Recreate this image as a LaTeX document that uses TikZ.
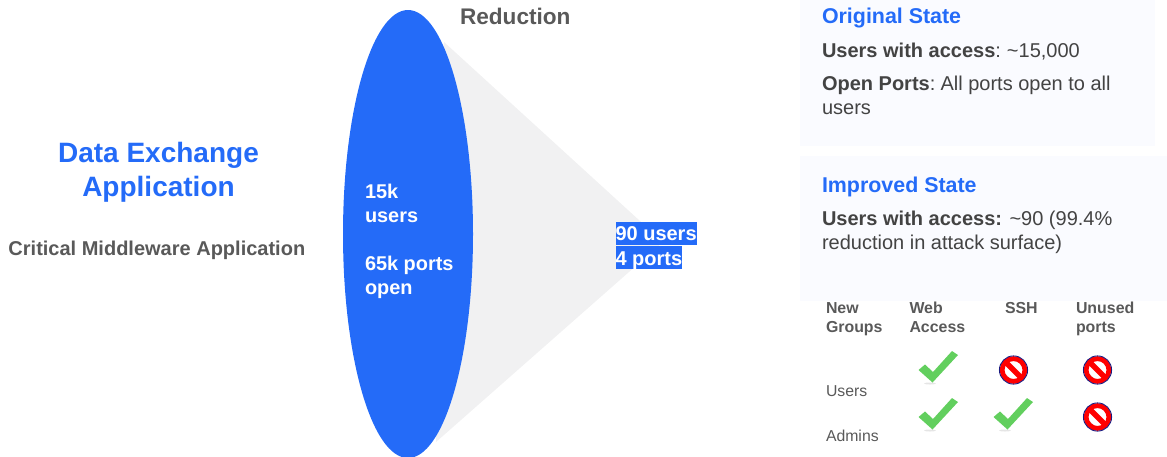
\documentclass[tikz,border=0pt]{standalone}
\usepackage{fontspec}
\usetikzlibrary{shapes.geometric}
\setmainfont{Liberation Sans}
\definecolor{blu}{HTML}{246BF8}
\definecolor{cone}{HTML}{F1F1F2}
\definecolor{panel}{HTML}{FAFBFF}
\definecolor{txt}{HTML}{595959}
\definecolor{dark}{HTML}{434343}
\definecolor{chk}{HTML}{62CF5E}
\definecolor{nvy}{HTML}{1A1A80}
\newcommand{\fs}[1]{\fontsize{#1}{#1}\selectfont}
\tikzset{
  lab/.style={anchor=base west,inner sep=0pt,outer sep=0pt},
  title/.style={lab,font=\fs{21.4}\bfseries,text=blu},
  body/.style={lab,font=\fs{20},text=dark},
  head/.style={lab,font=\fs{15.9}\bfseries,text=txt},
  row/.style={lab,font=\fs{15.8},text=txt},
  inell/.style={lab,font=\fs{19.9}\bfseries,text=white},
  hl/.style={lab,font=\fs{20}\bfseries,text=white,fill=blu,text height=18pt,text depth=4.6pt},
  pics/okmark/.style={code={
    \fill[black!10] (-8,13.5) ellipse (6 and 1);
    \fill[chk] (-19.5,0) -- (-13,-5.5) -- (-5,2) -- (14,-19) -- (20,-15) -- (-5.5,12.5) -- cycle;
  }},
  pics/nomark/.style={code={
    \fill[white] (0,0) circle (14);
    \begin{scope}
      \clip (0,0) circle (11);
      \fill[black!22] (-12,0) -- (0,12) -- (-12,12) -- cycle;
      \fill[black!22] (6,-8) -- (12,-8) -- (12,4) -- cycle;
    \end{scope}
    \draw[red,line width=4.8pt] (0,0) circle (11.4);
    \draw[red,line width=5.4pt] (-9,-9) -- (9,9);
    \draw[nvy,line width=0.9pt] (0,0) circle (14.1);
  }}
}
\begin{document}
\begin{tikzpicture}[x=1pt,y=-1pt]
\useasboundingbox (0,0) rectangle (1167,456);
\fill[panel] (800,0) rectangle (1155,146);
\fill[panel] (800,156) rectangle (1167,301);
\fill[cone] (444,42) -- (663,242) -- (436,442) -- cycle;
\begin{scope}
\clip (0,0) rectangle (1167,456);
\node[ellipse,fill=blu,minimum width=130pt,minimum height=448pt,inner sep=0pt] (oval) at (408,234) {};
\end{scope}
\node[lab,font=\fs{22.6}\bfseries,text=txt] (red) at (460,24) {Reduction};
\node[anchor=base,inner sep=0pt,font=\fs{28}\bfseries,text=blu] (t1) at (158.5,162) {Data Exchange};
\node[anchor=base,inner sep=0pt,font=\fs{28}\bfseries,text=blu] (t2) at (158.5,196) {Application};
\node[lab,font=\fs{20}\bfseries,text=txt] (crit) at (8.5,255) {Critical Middleware Application};
\node[inell] (a) at (365,198) {15k};
\node[inell] (b) at (365,222) {users};
\node[inell] (c) at (365,270) {65k ports};
\node[inell] (d) at (365,294) {open};
\node[hl] (e) at (615.5,240) {90 users};
\node[hl,text height=19pt,text depth=3.6pt] (f) at (615.5,265) {4 ports};
\node[title] (o1) at (822,23) {Original State};
\node[body] (o2) at (822,57) {\textbf{Users with access}:\hspace{6pt}\textasciitilde15,000};
\node[body] (o3) at (822,90) {\textbf{Open Ports}:\hspace{5.2pt}All ports open to all};
\node[body] (o4) at (822,114) {users};
\node[title] (i1) at (822,192) {Improved State};
\node[body] (i2) at (822,225) {\textbf{Users with access:} \textasciitilde90 (99.4\%};
\node[body] (i3) at (822,249) {reduction in attack surface)};
\node[head] (h1) at (826,313) {New};
\node[head] (h2) at (826,332) {Groups};
\node[head] (h3) at (909.5,313) {Web};
\node[head] (h4) at (909.5,332) {Access};
\node[head] (h5) at (1005,313) {SSH};
\node[head] (h6) at (1076,313) {Unused};
\node[head] (h7) at (1076,332) {ports};
\node[row] (r1) at (826,396) {Users};
\node[row] (r2) at (826,441) {Admins};
\pic at (938,370) {okmark};
\pic at (938,417) {okmark};
\pic at (1013,417) {okmark};
\pic at (1013.5,370) {nomark};
\pic at (1097.5,370) {nomark};
\pic at (1097.5,417) {nomark};
\end{tikzpicture}
\end{document}
